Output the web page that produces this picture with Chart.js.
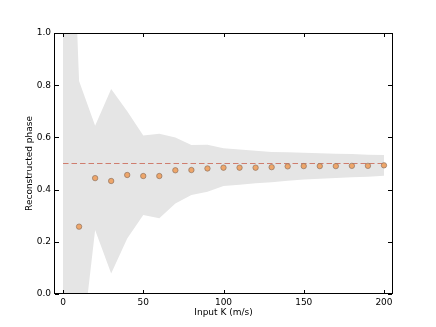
<!DOCTYPE html>
<html>
<head>
<meta charset="utf-8">
<script src="https://cdn.jsdelivr.net/npm/chart.js@4"></script>
<style>
  html, body { margin: 0; padding: 0; background: #fff; }
  #wrap { width: 436px; height: 327px; }
</style>
</head>
<body>
<div id="wrap"><canvas id="c" width="436" height="327"></canvas></div>
<script>
// ---- data ----
const kValues = [10, 20, 30, 40, 50, 60, 70, 80, 90, 100, 110, 120, 130, 140, 150, 160, 170, 180, 190, 200];
const phaseValues = [0.258, 0.444, 0.433, 0.456, 0.452, 0.452, 0.474, 0.475, 0.481, 0.484, 0.484, 0.484, 0.486, 0.489, 0.490, 0.490, 0.490, 0.491, 0.491, 0.493];
const bandK = [0, 10, 20, 30, 40, 50, 60, 70, 80, 90, 100, 110, 120, 130, 140, 150, 160, 170, 180, 190, 200];
const bandUpper = [2.44, 0.816, 0.645, 0.785, 0.700, 0.607, 0.614, 0.600, 0.571, 0.572, 0.558, 0.554, 0.549, 0.544, 0.543, 0.541, 0.539, 0.537, 0.536, 0.534, 0.533];
const bandLower = [-1.0, -0.29, 0.245, 0.079, 0.213, 0.303, 0.290, 0.347, 0.379, 0.392, 0.414, 0.419, 0.424, 0.428, 0.434, 0.439, 0.442, 0.444, 0.447, 0.449, 0.453];
const trueK = [0, 200];
const truePhase = [0.5, 0.5];
const xTicks = [0, 50, 100, 150, 200];
const yTicks = [0.0, 0.2, 0.4, 0.6, 0.8, 1.0];

const FONT = 'DejaVu Sans';

const pts = (xs, ys) => xs.map((x, i) => ({ x: x, y: ys[i] }));

// inward ticks + full frame
const framePlugin = {
  id: 'frame',
  afterDatasetsDraw(chart) {
    const { ctx, chartArea: a, scales } = chart;
    ctx.save();
    ctx.strokeStyle = '#000';
    ctx.lineWidth = 1;
    const L = 4;
    ctx.beginPath();
    xTicks.forEach(v => {
      const px = Math.round(scales.x.getPixelForValue(v)) + 0.5;
      ctx.moveTo(px, a.bottom); ctx.lineTo(px, a.bottom - L);
      ctx.moveTo(px, a.top); ctx.lineTo(px, a.top + L);
    });
    yTicks.forEach(v => {
      const py = Math.round(scales.y.getPixelForValue(v)) + 0.5;
      ctx.moveTo(a.left, py); ctx.lineTo(a.left + L, py);
      ctx.moveTo(a.right, py); ctx.lineTo(a.right - L, py);
    });
    ctx.stroke();
    ctx.strokeRect(Math.round(a.left) - 0.5, Math.round(a.top) + 0.5, Math.round(a.right - a.left) + 1, Math.round(a.bottom - a.top) - 1);
    ctx.restore();
  }
};

new Chart(document.getElementById('c'), {
  type: 'scatter',
  data: {
    datasets: [
      {
        label: 'reconstructed',
        data: pts(kValues, phaseValues),
        showLine: false,
        pointRadius: 2.7,
        pointBackgroundColor: '#eea66a',
        pointBorderColor: '#8f7360',
        pointBorderWidth: 0.7,
        order: 0
      },
      {
        label: 'true',
        data: pts(trueK, truePhase),
        showLine: true,
        borderColor: '#cf7d6e',
        borderWidth: 1,
        borderDash: [5.5, 3],
        pointRadius: 0,
        fill: false,
        order: 1
      },
      {
        label: 'lower',
        data: pts(bandK, bandLower),
        showLine: true,
        borderWidth: 0,
        borderColor: 'rgba(0,0,0,0)',
        pointRadius: 0,
        fill: false,
        order: 3
      },
      {
        label: 'upper',
        data: pts(bandK, bandUpper),
        showLine: true,
        borderWidth: 0,
        borderColor: 'rgba(0,0,0,0)',
        backgroundColor: '#e5e5e5',
        pointRadius: 0,
        fill: 2,
        order: 2
      }
    ]
  },
  options: {
    responsive: false,
    animation: false,
    events: [],
    layout: { padding: { top: 33, left: 0, right: 0, bottom: 0 } },
    plugins: { legend: { display: false }, tooltip: { enabled: false } },
    scales: {
      x: {
        type: 'linear',
        min: -5, max: 205,
        afterBuildTicks: s => { s.ticks = xTicks.map(v => ({ value: v })); },
        afterFit: s => { s.height = 33; },
        grid: { display: false, drawTicks: false },
        border: { display: false },
        ticks: { color: '#000', padding: 3, font: { family: FONT, size: 9 }, callback: v => String(v), maxRotation: 0 },
        title: { display: true, text: 'Input K (m/s)', color: '#000', font: { family: FONT, size: 9 }, padding: { top: 0, bottom: 8.6 } }
      },
      y: {
        type: 'linear',
        min: 0, max: 1,
        afterBuildTicks: s => { s.ticks = yTicks.map(v => ({ value: v })); },
        afterFit: s => { s.width = 55; },
        grid: { display: false, drawTicks: false },
        border: { display: false },
        ticks: { color: '#000', padding: 4, font: { family: FONT, size: 9 }, callback: v => Number(v).toFixed(1) },
        title: { display: true, text: 'Reconstructed phase', color: '#000', font: { family: FONT, size: 9 }, padding: { top: 24.6, bottom: 0 } }
      },
      y2: {
        type: 'linear',
        position: 'right',
        min: 0, max: 1,
        display: true,
        afterFit: s => { s.width = 44; },
        grid: { display: false, drawTicks: false },
        border: { display: false },
        ticks: { display: false }
      }
    }
  },
  plugins: [framePlugin]
});
</script>
</body>
</html>
